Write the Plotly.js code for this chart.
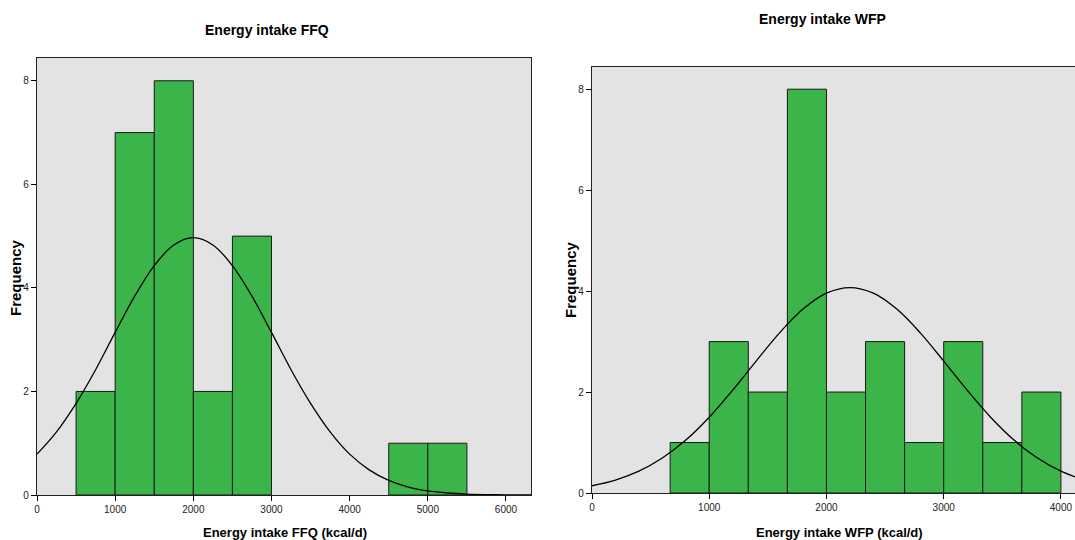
<!DOCTYPE html>
<html>
<head>
<meta charset="utf-8">
<script src="https://cdn.plot.ly/plotly-3.0.1.min.js"></script>
<style>html,body{margin:0;padding:0;background:#fff;}#chart{width:1075px;height:540px;}</style>
</head>
<body>
<div id="chart"></div>
<script>
// ---- Data ----
// Left: Energy intake FFQ (bin width 500)
const ffqBinStarts = [500, 1000, 1500, 2000, 2500, 4500, 5000];
const ffqCounts    = [2, 7, 8, 2, 5, 1, 1];
const ffqBinWidth  = 500;
// Normal curve
const ffqCurveX = [0,250,500,750,1000,1250,1500,1750,2000,2250,2500,2750,3000,3250,3500,3750,4000,4250,4500,4750,5000,5250,5500,5750,6000,6250,6320];
const ffqCurveY = [0.79,1.22,1.77,2.42,3.14,3.84,4.43,4.83,4.97,4.83,4.43,3.84,3.14,2.42,1.77,1.22,0.79,0.485,0.281,0.154,0.08,0.039,0.018,0.008,0.003,0.001,0.001];

// Right: Energy intake WFP (bin width 333.33)
const wfpBinStarts = [666.67, 1000, 1333.33, 1666.67, 2000, 2333.33, 2666.67, 3000, 3333.33, 3666.67];
const wfpCounts    = [1, 3, 2, 8, 2, 3, 1, 3, 1, 2];
const wfpBinWidth  = 333.33;
const wfpCurveX = [0,200,400,600,800,1000,1200,1400,1600,1800,2000,2200,2400,2600,2800,3000,3200,3400,3600,3800,4000,4200];
const wfpCurveY = [0.143,0.256,0.432,0.692,1.048,1.502,2.037,2.614,3.173,3.643,3.959,4.07,3.959,3.643,3.173,2.614,2.037,1.502,1.048,0.692,0.432,0.256];

const xTicks1 = [0,1000,2000,3000,4000,5000,6000];
const xTicks2 = [0,1000,2000,3000,4000];
const yTicks  = [0,2,4,6,8];

// ---- Styles ----
const green = 'rgb(59,181,74)';
const sans = 'Liberation Sans, Arial, sans-serif';

const traces = [
  {type:'bar', x: ffqBinStarts, y: ffqCounts, width: ffqBinWidth, offset: 0,
   marker:{color: green, line:{color:'#1a1a1a', width:1}}, xaxis:'x', yaxis:'y', hoverinfo:'skip'},
  {type:'scatter', mode:'lines', x: ffqCurveX, y: ffqCurveY, line:{color:'#000', width:1.3, shape:'spline'},
   xaxis:'x', yaxis:'y', hoverinfo:'skip'},
  {type:'bar', x: wfpBinStarts, y: wfpCounts, width: wfpBinWidth, offset: 0,
   marker:{color: green, line:{color:'#1a1a1a', width:1}}, xaxis:'x2', yaxis:'y2', hoverinfo:'skip'},
  {type:'scatter', mode:'lines', x: wfpCurveX, y: wfpCurveY, line:{color:'#000', width:1.3, shape:'spline'},
   xaxis:'x2', yaxis:'y2', hoverinfo:'skip'}
];

function xAxis(domain, range, ticks, anchor){
  return {domain: domain, range: range, anchor: anchor, tickvals: ticks, ticktext: ticks.map(String),
    ticks:'outside', ticklen:5, tickwidth:1, tickcolor:'#000',
    showline:true, linecolor:'#222', linewidth:1.2, mirror:true,
    showgrid:false, zeroline:false, tickfont:{family: sans, size:10, color:'#222'}, fixedrange:true};
}
function yAxis(domain, anchor){
  return {domain: domain, range:[0, 8.44], anchor: anchor, tickvals: yTicks, ticktext: yTicks.map(String),
    ticks:'outside', ticklen:5, tickwidth:1, tickcolor:'#000',
    showline:true, linecolor:'#222', linewidth:1.2, mirror:true,
    showgrid:false, zeroline:false, tickfont:{family: sans, size:10, color:'#222'}, fixedrange:true};
}

function ann(text, x, y, font, angle){
  return {text: text, x: x, y: y, xref:'paper', yref:'paper', showarrow:false,
    xanchor:'center', yanchor:'middle', font: font, textangle: angle || 0};
}

const layout = {
  width:1075, height:540, margin:{l:0, r:0, t:0, b:0},
  paper_bgcolor:'#fff', plot_bgcolor:'#e3e3e3', showlegend:false, bargap:0,
  xaxis: xAxis([37/1075, 531/1075], [0, 6320], xTicks1, 'y'),
  yaxis: yAxis([45/540, 482/540], 'x'),
  xaxis2: xAxis([592/1075, 1], [0, 4120], xTicks2, 'y2'),
  yaxis2: yAxis([47/540, 473/540], 'x2'),
  annotations: [
    ann('<b>Energy intake FFQ</b>', 267/1075, 510/540, {family: sans, size:14, color:'#000'}),
    ann('<b>Energy intake WFP</b>', 822/1075, 521/540, {family: sans, size:14, color:'#000'}),
    ann('<b>Energy intake FFQ (kcal/d)</b>', 285/1075, 8/540, {family: sans, size:13, color:'#000'}),
    ann('<b>Energy intake WFP (kcal/d)</b>', 839/1075, 8/540, {family: sans, size:13, color:'#000'}),
    ann('<b>Frequency</b>', 15/1075, 262/540, {family: sans, size:15, color:'#000'}, -90),
    ann('<b>Frequency</b>', 570/1075, 260/540, {family: sans, size:15, color:'#000'}, -90)
  ]
};

Plotly.newPlot('chart', traces, layout, {staticPlot:true, displayModeBar:false});
</script>
</body>
</html>
